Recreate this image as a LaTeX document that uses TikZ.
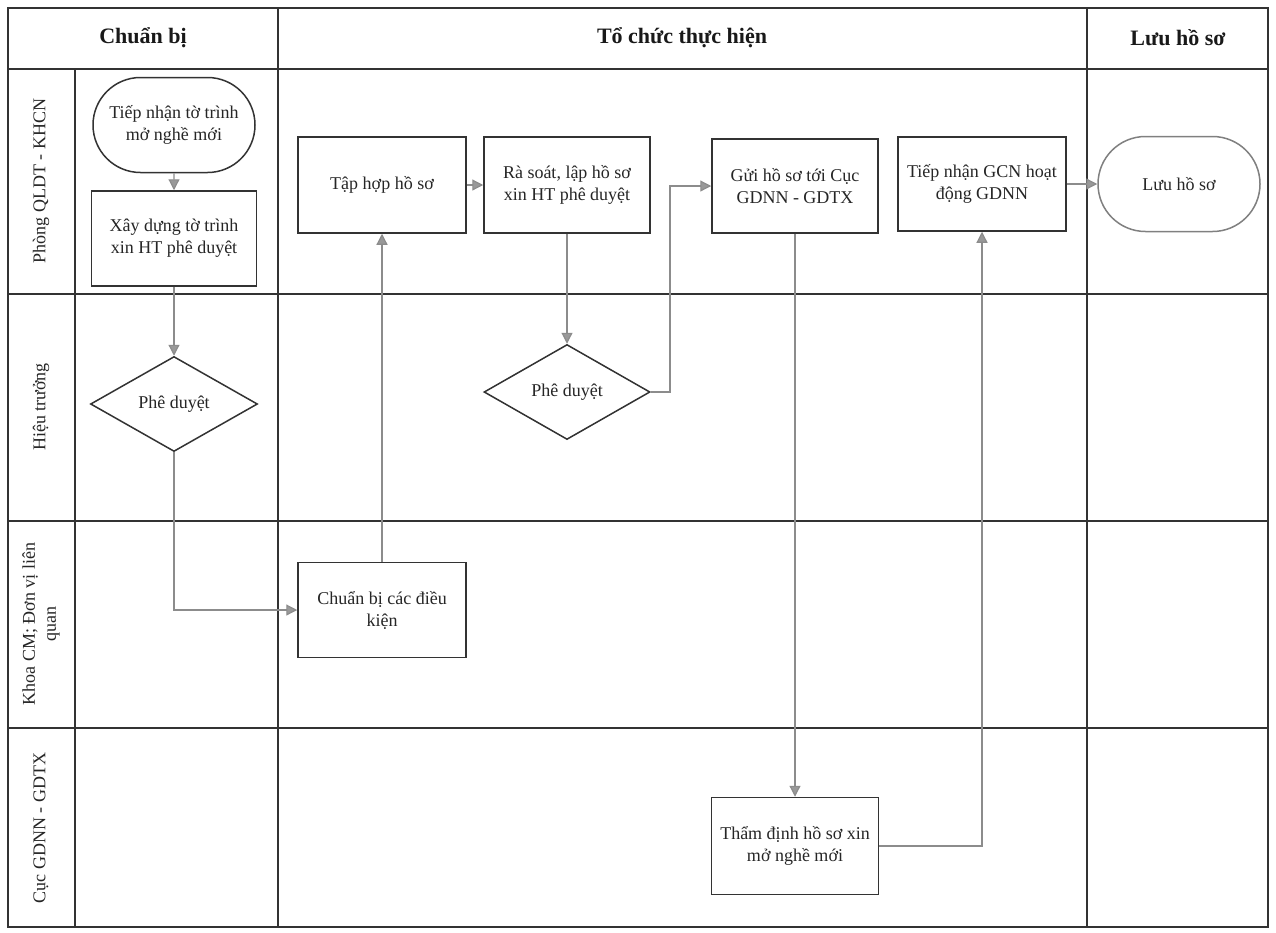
\documentclass[tikz,border=0pt]{standalone}
\usepackage{fontspec}
\setmainfont{Liberation Serif}
\usetikzlibrary{shapes.geometric,shapes.misc,arrows.meta}
\begin{document}
\begin{tikzpicture}[x=1pt,y=-1pt,
  grid/.style={draw=black!80,line width=1.5pt},
  stepbox/.style={draw=black!80,line width=1.5pt,rectangle,minimum width=167pt,minimum height=95pt,inner sep=2pt,align=center,font=\fontsize{18}{22}\selectfont,text=black!85},
  termbox/.style={draw=black!80,line width=1.5pt,rounded rectangle,minimum width=166pt,minimum height=95pt,inner sep=2pt,align=center,font=\fontsize{18}{22}\selectfont,text=black!85},
  decbox/.style={draw=black!80,line width=1.5pt,diamond,aspect=1.76,minimum width=167pt,minimum height=95pt,inner sep=0pt,align=center,font=\fontsize{18}{22}\selectfont,text=black!85},
  flow/.style={draw=black!45,line width=1.2pt,-{Triangle[width=11pt,length=11pt,fill=black!40]}},
  headtxt/.style={font=\bfseries\fontsize{22}{26}\selectfont,text=black!90},
  lanetxt/.style={rotate=90,align=center,font=\fontsize{18}{21}\selectfont,text=black!85}
]
\useasboundingbox (0,0) rectangle (1276,932);
\fill[white] (0,0) rectangle (1276,932);

% grid
\draw[grid] (8,8) rectangle (1268,927);
\draw[grid] (8,69) -- (1268,69);
\draw[grid] (8,294) -- (1268,294);
\draw[grid] (8,521) -- (1268,521);
\draw[grid] (8,728) -- (1268,728);
\draw[grid] (75,69) -- (75,927);
\draw[grid] (278,8) -- (278,927);
\draw[grid] (1087,8) -- (1087,927);

% headers
\node[headtxt] (h1) at (143,38) {Chuẩn bị};
\node[headtxt] (h2) at (682,38) {Tổ chức thực hiện};
\node[headtxt] (h3) at (1178,38) {Lưu hồ sơ};

% lane labels
\node[lanetxt] (l1) at (41,181) {Phòng QLDT - KHCN};
\node[lanetxt] (l2) at (41,407) {Hiệu trưởng};
\node[lanetxt] (l3) at (41,624) {Khoa CM; Đơn vị liên\\quan};
\node[lanetxt] (l4) at (41,828) {Cục GDNN - GDTX};

% nodes
\node[termbox] (start) at (174,125) {Tiếp nhận tờ trình\\mở nghề mới};
\node[stepbox,minimum width=165pt] (build) at (174,238.5) {Xây dựng tờ trình\\xin HT phê duyệt};
\node[decbox] (ap1) at (174,404) {Phê duyệt};
\node[stepbox,minimum width=168pt] (prep) at (382,610) {Chuẩn bị các điều\\kiện};
\node[stepbox,minimum width=168pt,minimum height=96pt] (collect) at (382,185) {Tập hợp hồ sơ};
\node[stepbox,minimum width=166pt,minimum height=96pt] (review) at (567,185) {Rà soát, lập hồ sơ\\xin HT phê duyệt};
\node[decbox,minimum width=166pt] (ap2) at (567,392) {Phê duyệt};
\node[stepbox,minimum width=166pt,minimum height=94pt] (send) at (795,186) {Gửi hồ sơ tới Cục\\GDNN - GDTX};
\node[stepbox,minimum width=167pt,minimum height=97pt] (appraise) at (795,846) {Thẩm định hồ sơ xin\\mở nghề mới};
\node[stepbox,minimum width=168pt,minimum height=94pt] (receive) at (982,184) {Tiếp nhận GCN hoạt\\động GDNN};
\node[termbox,draw=black!50] (store) at (1179,184) {Lưu hồ sơ};

% connectors
\coordinate (k1) at (670,392);
\draw[flow] (start) -- (build);
\draw[flow] (build) -- (ap1);
\draw[flow] (ap1.south) |- (prep.west);
\draw[flow] (prep.north) -- (collect.south);
\draw[flow] (collect) -- (review);
\draw[flow] (review) -- (ap2);
\draw[flow] (ap2.east) -- (k1) |- (send.west);
\draw[flow] (send.south) -- (appraise.north);
\draw[flow] (appraise.east) -| (receive.south);
\draw[flow] (receive.east) -- (store.west);
\end{tikzpicture}
\end{document}
